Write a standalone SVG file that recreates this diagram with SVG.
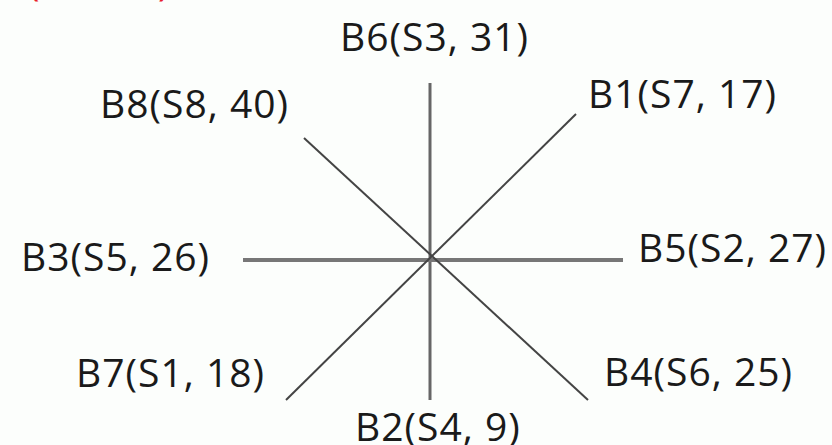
<svg xmlns="http://www.w3.org/2000/svg" width="832" height="445" viewBox="0 0 832 445">
<style>
.lbl{font-family:"Open Sans","Liberation Sans",sans-serif;font-size:39px;fill:#1a1a1a;letter-spacing:1px}
.red{font-family:"Open Sans","Liberation Sans",sans-serif;font-size:39px;fill:#e8202a}
.ln{stroke-linecap:butt;fill:none}
</style>
<rect width="832" height="445" fill="#fcfefc"/>
<text class="red" x="28" y="-4">(</text>
<text class="red" x="158" y="-4">)</text>
<g id="connectors">
<line class="ln" x1="430" y1="83" x2="430" y2="400" stroke="#666" stroke-width="3"/>
<line class="ln" x1="243" y1="260" x2="623" y2="260" stroke="#777" stroke-width="4"/>
<line class="ln" x1="576" y1="114" x2="286" y2="400" stroke="#444" stroke-width="2"/>
<line class="ln" x1="304" y1="138" x2="588" y2="400" stroke="#444" stroke-width="2"/>
</g>
<g id="B6"><text class="lbl" x="340" y="51">B6(S3, 31)</text></g>
<g id="B8"><text class="lbl" x="100" y="118">B8(S8, 40)</text></g>
<g id="B1"><text class="lbl" x="588" y="108">B1(S7, 17)</text></g>
<g id="B3"><text class="lbl" x="21" y="271">B3(S5, 26)</text></g>
<g id="B5"><text class="lbl" x="638" y="262">B5(S2, 27)</text></g>
<g id="B7"><text class="lbl" x="76" y="387">B7(S1, 18)</text></g>
<g id="B4"><text class="lbl" x="604" y="386">B4(S6, 25)</text></g>
<g id="B2"><text class="lbl" x="355" y="441">B2(S4, 9)</text></g>
</svg>
